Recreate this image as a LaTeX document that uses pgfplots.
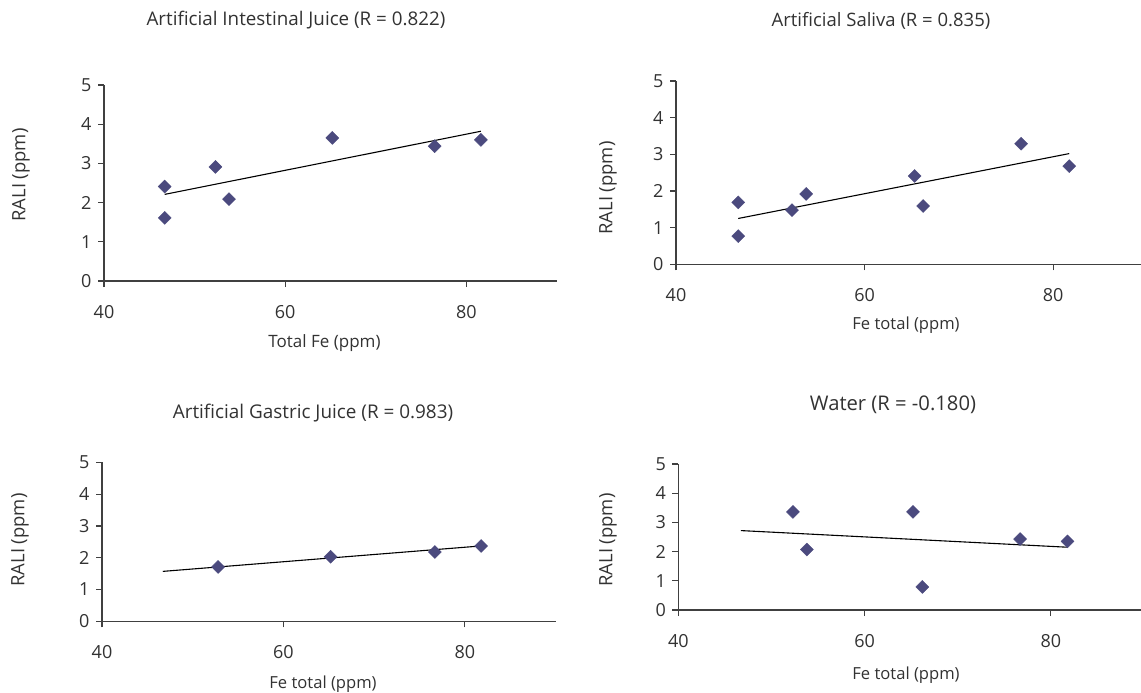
\documentclass[border=0pt]{standalone}
\usepackage{pgfplots}
\pgfplotsset{compat=1.18}
\usepackage{fontspec}
\setmainfont{Open Sans}
\definecolor{txt}{RGB}{50,50,50}
\definecolor{mk}{RGB}{75,74,126}
\pgfplotsset{
  panel/.style={
    scale only axis,
    anchor=south west,
    axis x line=bottom, axis y line=left,
    axis line style={-, line width=1.2pt, color=black!75},
    xmin=40, xmax=90, ymin=0, ymax=5,
    xtick={40,60,80}, ytick={0,1,2,3,4,5},
    tick align=outside, major tick length=6pt,
    tick style={line width=1.2pt, color=black!75},
    ticklabel style={font=\fontsize{18}{21}\selectfont, text=txt},
    /pgf/number format/assume math mode=true,
    xticklabel style={yshift=-15pt},
    yticklabel style={xshift=-3pt},
    clip=false,
  },
  pts/.style={only marks, mark=square*, mark size=4.6pt, mark options={rotate=45, fill=mk, draw=mk}},
  fit/.style={no marks, black, line width=1.1pt},
}
\begin{document}
\begin{tikzpicture}
\useasboundingbox (0pt,0pt) rectangle (1141pt,-693pt);
% Panel 1
\begin{axis}[panel, at={(104pt,-281pt)}, width=453pt, height=196pt]
\addplot[pts] coordinates {(46.7,2.41) (46.7,1.61) (52.3,2.91) (53.8,2.09) (65.2,3.65) (76.5,3.44) (81.6,3.60)};
\addplot[fit] coordinates {(46.7,2.21) (81.6,3.82)};
\end{axis}
% Panel 2
\begin{axis}[panel, at={(676pt,-264.3pt)}, width=471.5pt, height=183.3pt]
\addplot[pts] coordinates {(46.6,1.69) (46.6,0.77) (52.3,1.48) (53.8,1.92) (65.3,2.41) (66.2,1.59) (76.6,3.29) (81.7,2.68)};
\addplot[fit] coordinates {(46.6,1.25) (81.7,3.02)};
\end{axis}
% Panel 3
\begin{axis}[panel, at={(102pt,-621.3pt)}, width=453.5pt, height=159pt]
\addplot[pts] coordinates {(52.8,1.71) (65.2,2.03) (76.7,2.18) (81.8,2.37)};
\addplot[fit] coordinates {(46.7,1.57) (81.8,2.37)};
\end{axis}
% Panel 4
\begin{axis}[panel, at={(678.4pt,-610pt)}, width=465.5pt, height=146pt]
\addplot[pts] coordinates {(52.3,3.36) (53.8,2.07) (65.2,3.36) (66.2,0.79) (76.7,2.43) (81.8,2.35)};
\addplot[fit] coordinates {(46.7,2.72) (81.8,2.15)};
\end{axis}
% Titles and labels
\begin{scope}[every node/.style={text=txt, inner sep=0pt}]
\node[font=\fontsize{18.8}{22}\selectfont] at (296pt,-20pt) {Artificial Intestinal Juice (R = 0.822)};
\node[font=\fontsize{18.5}{22}\selectfont] at (881pt,-21pt) {Artificial Saliva (R = 0.835)};
\node[font=\fontsize{18.9}{22}\selectfont] at (313pt,-413pt) {Artificial Gastric Juice (R = 0.983)};
\node[font=\fontsize{20.2}{24}\selectfont] at (893pt,-405pt) {Water (R = -0.180)};
\node[font=\fontsize{17}{20}\selectfont] at (324.5pt,-343pt) {Total Fe (ppm)};
\node[font=\fontsize{16.6}{20}\selectfont] at (906pt,-325pt) {Fe total (ppm)};
\node[font=\fontsize{16.6}{20}\selectfont] at (323pt,-684pt) {Fe total (ppm)};
\node[font=\fontsize{16.6}{20}\selectfont] at (906pt,-675pt) {Fe total (ppm)};
\node[font=\fontsize{18.4}{22}\selectfont, rotate=90] at (21pt,-175pt) {RALI (ppm)};
\node[font=\fontsize{18.4}{22}\selectfont, rotate=90] at (608pt,-188pt) {RALI (ppm)};
\node[font=\fontsize{18.4}{22}\selectfont, rotate=90] at (20pt,-540pt) {RALI (ppm)};
\node[font=\fontsize{18.4}{22}\selectfont, rotate=90] at (608pt,-540pt) {RALI (ppm)};
\end{scope}
\end{tikzpicture}
\end{document}
